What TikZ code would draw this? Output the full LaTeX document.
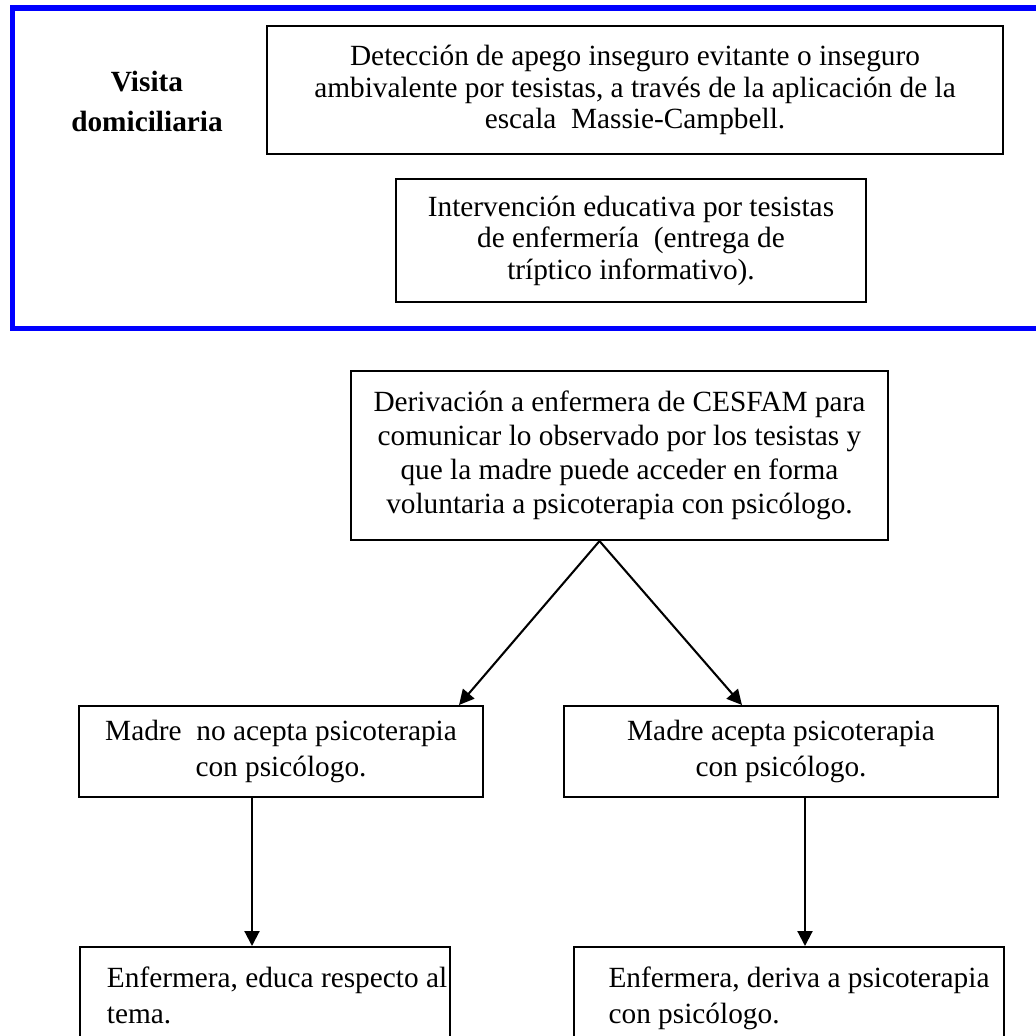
\documentclass[tikz,border=0pt]{standalone}
\usepackage{fontspec}
\setmainfont{Liberation Serif}
\usetikzlibrary{arrows.meta,calc}
\newcommand{\PX}[1]{#1*0.3875pt}
\tikzset{
  box/.style={draw, line width=0.8pt, inner sep=0pt, align=center},
  tightfont/.style={font=\fontsize{11.36}{12.2}\selectfont},
  midfont/.style={font=\fontsize{11.36}{13.2}\selectfont},
  loosefont/.style={font=\fontsize{11.36}{14.3}\selectfont},
  leftbox/.style={draw, line width=0.8pt, inner xsep=0pt, inner ysep=\PX{20}, align=left, anchor=north west, font=\fontsize{11.36}{14}\selectfont},
  arr/.style={line width=0.8pt, -{Triangle[length=5.8pt, width=5.8pt]}},
  frame/.style={draw=blue, line width=2.2pt, line join=miter}
}
\begin{document}
\begin{tikzpicture}[x=0.3875pt, y=-0.3875pt]
\useasboundingbox (0,0) rectangle (1036,1036);
\clip (0,0) rectangle (1036,1036);
\fill[white] (0,0) rectangle (1036,1036);
% blue frame
\draw[frame] (1100,8) -- (12.5,8) -- (12.5,328.5) -- (1100,328.5);
\node[font=\fontsize{11.36}{15.5}\selectfont\bfseries, align=center] (vd) at (147,101) {Visita\\domiciliaria};
% boxes
\node[box, tightfont, minimum width=\PX{736}, minimum height=\PX{128}] (b1) at (635,90)
  {Detección de apego inseguro evitante o inseguro\\ambivalente por tesistas, a través de la aplicación de la\\escala\ \ Massie-Campbell.};
\node[box, tightfont, minimum width=\PX{470}, minimum height=\PX{123}] (b2) at (631,240.5)
  {Intervención educativa por tesistas\\de enfermería\ \ (entrega de\\tríptico informativo).};
\node[box, midfont, minimum width=\PX{537}, minimum height=\PX{169}] (b3) at (619.5,455.5)
  {Derivación a enfermera de CESFAM para\\comunicar lo observado por los tesistas y\\que la madre puede acceder en forma\\voluntaria a psicoterapia con psicólogo.};
\node[box, loosefont, minimum width=\PX{404}, minimum height=\PX{91}] (b4) at (281,751.5)
  {Madre\ \ no acepta psicoterapia\\con psicólogo.};
\node[box, loosefont, minimum width=\PX{434}, minimum height=\PX{91}] (b5) at (781,751.5)
  {Madre acepta psicoterapia\\con psicólogo.};
\node[leftbox, minimum width=\PX{370}] (b6) at (79,946)
  {\hspace*{9.3pt}Enfermera, educa respecto al\\\hspace*{9.3pt}tema.};
\node[leftbox, minimum width=\PX{430}] (b7) at (573,946)
  {\hspace*{7.75pt}Enfermera, deriva a psicoterapia\\\hspace*{7.75pt}con psicólogo.};
% connectors
\coordinate (apex) at ($(b3.south)+(-20,0)$);
\draw[arr] (apex) -- ($(b4.north east)+(-25,0)$);
\draw[arr] (apex) -- ($(b5.north west)+(179,0)$);
\draw[arr] ($(b4.south)+(-29,0)$) coordinate (s1) -- (s1 |- b6.north);
\draw[arr] ($(b5.south)+(24,0)$) coordinate (s2) -- (s2 |- b7.north);
\end{tikzpicture}
\end{document}
